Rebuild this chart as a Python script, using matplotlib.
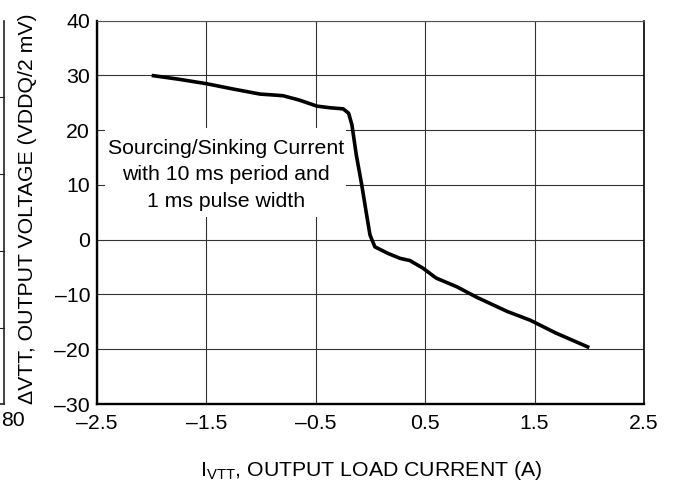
import matplotlib
matplotlib.use("Agg")
import matplotlib.pyplot as plt
from matplotlib.patches import Rectangle
from matplotlib.lines import Line2D

plt.rcParams['font.family'] = ['Liberation Sans', 'DejaVu Sans']
plt.rcParams['mathtext.fontset'] = 'custom'
plt.rcParams['mathtext.rm'] = 'Liberation Sans'
plt.rcParams['mathtext.it'] = 'Liberation Sans:italic'

# Data
load_current = [-2.0, -1.75, -1.5, -1.25, -1.01, -0.90, -0.80, -0.65, -0.49, -0.37, -0.25,
                -0.20, -0.17, -0.13, -0.08, -0.035, -0.005, 0.04, 0.16, 0.27, 0.36,
                0.48, 0.60, 0.79, 0.97, 1.25, 1.46, 1.55, 1.69, 2.0]
delta_vtt = [30.0, 29.3, 28.5, 27.5, 26.6, 26.45, 26.3, 25.5, 24.4, 24.1, 23.9,
             23.1, 21.0, 15.5, 10.0, 4.5, 0.9, -1.3, -2.5, -3.4, -3.8,
             -5.2, -7.0, -8.6, -10.5, -13.1, -14.7, -15.6, -17.0, -19.7]
x_ticks = [-2.5, -1.5, -0.5, 0.5, 1.5, 2.5]
y_ticks = [-30, -20, -10, 0, 10, 20, 30, 40]
note = "Sourcing/Sinking Current\nwith 10 ms period and\n1 ms pulse width"
note_box = (-2.427, 4.15, 2.203, 16.25)  # x, y, width, height in data units
note_pos = (-1.321, 11.85)

FS = 15.3
W, H = 676, 483
fig = plt.figure(figsize=(W / 100, H / 100), dpi=100)
ax = fig.add_axes([97 / W, 1 - 404 / H, (644 - 97) / W, (404 - 20.7) / H])

ax.set_xlim(-2.5, 2.5)
ax.set_ylim(-30, 40)
ax.set_xticks(x_ticks)
ax.set_yticks(y_ticks)
ax.set_xticklabels([f"{v:g}".replace("-", "\u2013") for v in x_ticks])
ax.set_yticklabels([f"{v:g}".replace("-", "\u2013") for v in y_ticks])
ax.tick_params(length=0, labelsize=FS, colors='black')
ax.tick_params(axis='x', pad=7.5)
ax.tick_params(axis='y', pad=5)
ax.grid(True, color='#333333', linewidth=0.8)
ax.set_axisbelow(True)

for side in ['left', 'bottom']:
    ax.spines[side].set_linewidth(1.7)
    ax.spines[side].set_color('black')
ax.spines['right'].set_linewidth(1.2)
ax.spines['top'].set_linewidth(0.8)
ax.spines['top'].set_color('#555555')

ax.add_patch(Rectangle((note_box[0], note_box[1]), note_box[2], note_box[3],
                       facecolor='white', edgecolor='none', zorder=1.5))
ax.text(note_pos[0], note_pos[1], note, ha='center', va='center',
        fontsize=FS, linespacing=1.5, zorder=2)

ax.plot(load_current, delta_vtt, color='black', linewidth=2.6,
        solid_joinstyle='round', solid_capstyle='butt', zorder=3)

fig.text(28 / W, 1 - 209 / H, "\u0394VTT, OUTPUT VOLTAGE (VDDQ/2 mV)",
         rotation=90, ha='center', va='center', fontsize=FS)
fig.text(371 / W, 1 - 476 / H, r"I$_{\mathrm{VTT}}$, OUTPUT LOAD CURRENT (A)",
         ha='center', va='baseline', fontsize=FS)

# Fragment of neighbouring chart at the left edge of the reference
fx = 3.6 / W
fig.add_artist(Line2D([fx, fx], [1 - 20.7 / H, 1 - 404 / H], transform=fig.transFigure,
                      color='#222222', linewidth=1.2))
fig.add_artist(Line2D([0, fx], [1 - 404 / H, 1 - 404 / H], transform=fig.transFigure,
                      color='#222222', linewidth=1.2))
for ty in [96.7, 173.7, 250.7, 327.7]:
    fig.add_artist(Line2D([0, fx], [1 - ty / H, 1 - ty / H], transform=fig.transFigure,
                          color='#222222', linewidth=0.8))
fig.text(1 / W, 1 - 420 / H, "80", ha='left', va='center', fontsize=FS)

fig.savefig("out.png", dpi=100)
